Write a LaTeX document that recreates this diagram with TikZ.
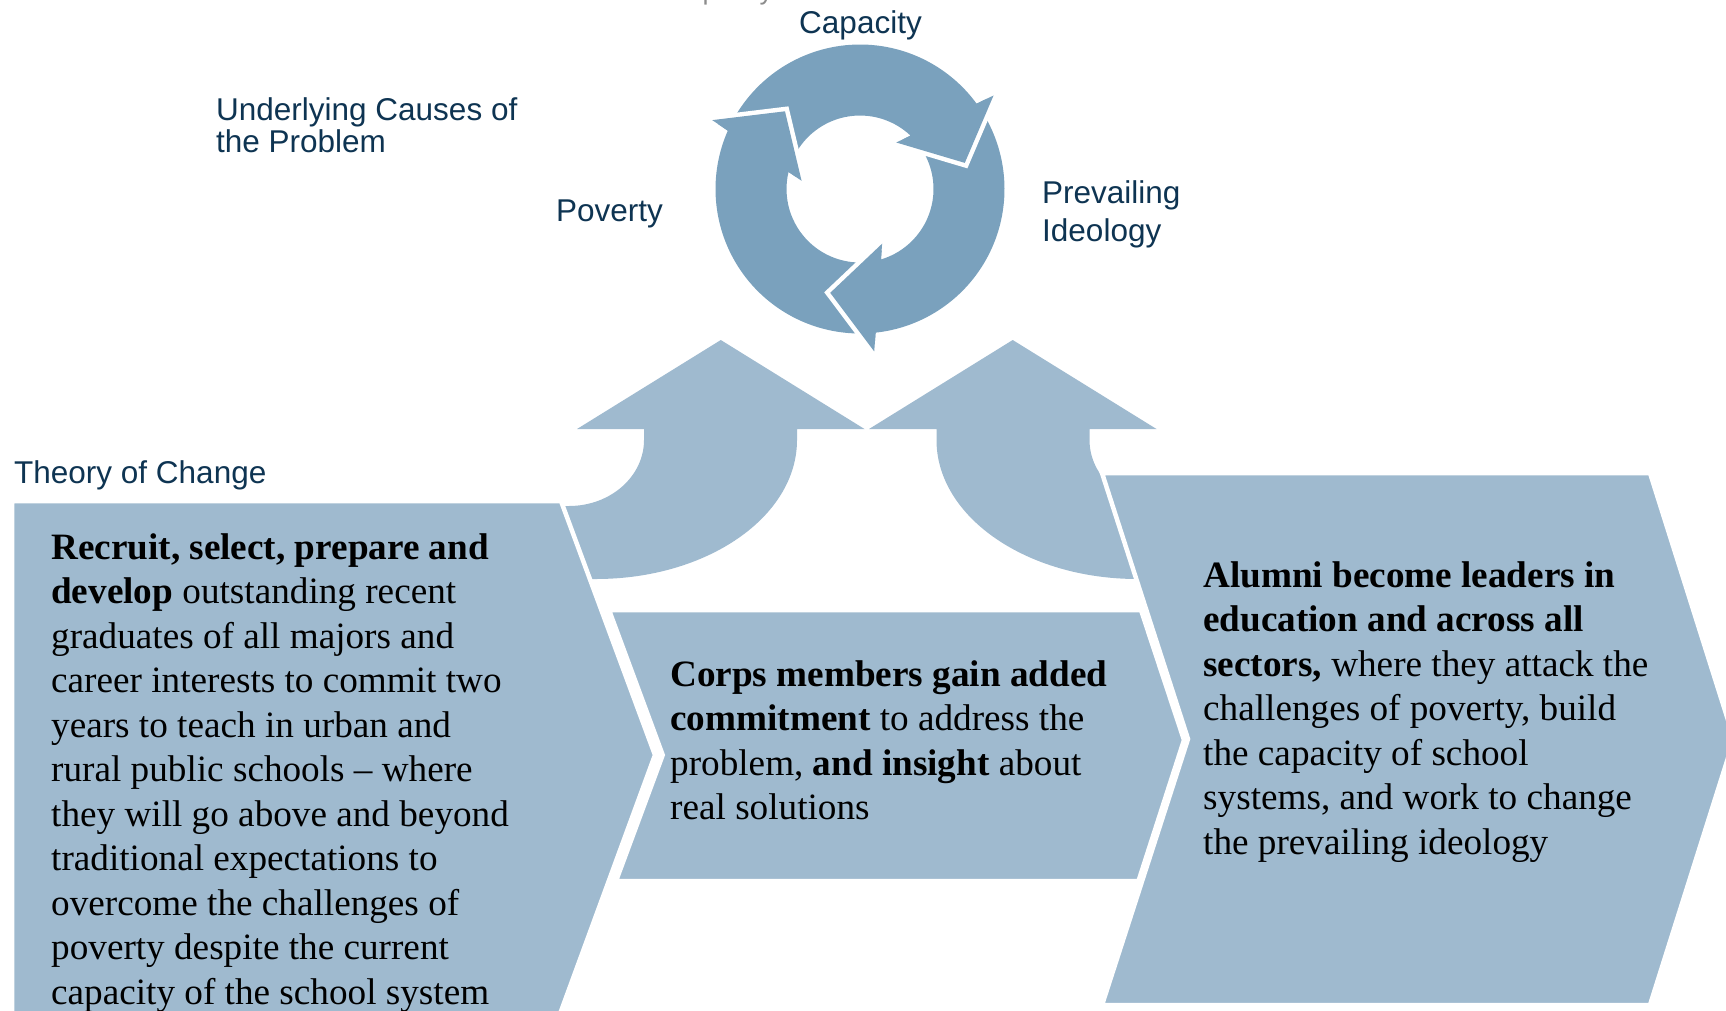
\documentclass[tikz,border=0pt]{standalone}
\usepackage{fontspec}
\setmainfont{Liberation Serif}
\newfontfamily\labelfont{Liberation Sans}
\definecolor{boxcol}{RGB}{159,186,207}
\definecolor{ringcol}{RGB}{122,161,189}
\definecolor{navy}{RGB}{14,52,82}
\tikzset{
  bigshape/.style={fill=boxcol, draw=white, line width=4.5pt, line join=miter},
  uparrow/.style={fill=boxcol},
  ringarrow/.style={fill=ringcol},
  ringgap/.style={draw=white, line width=9pt, line join=miter},
  cyclabel/.style={font=\labelfont\fontsize{31.5}{36}\selectfont, text=navy, inner sep=0pt},
  bodytext/.style={font=\fontsize{37.2}{44.5}\selectfont, align=left, inner sep=0pt, anchor=north west, text=black},
}
\begin{document}
\begin{tikzpicture}[x=1pt,y=1pt]
\useasboundingbox (0,0) rectangle (1726,-1010);
\clip (0,0) rectangle (1726,-1010);

% curved up arrows
\path[uparrow] (577,-429) -- (720.8,-340) -- (864.5,-429) -- (797,-429) -- (797,-440)
  arc[start angle=0, end angle=-90, x radius=201pt, y radius=139pt]
  -- (530,-579) -- (530,-506) -- (569,-506)
  arc[start angle=-90, end angle=0, x radius=75pt, y radius=66pt]
  -- (644,-429) -- cycle;
\path[uparrow] (869,-429) -- (1012.7,-340) -- (1156.5,-429) -- (1089.5,-429) -- (1089.5,-440)
  arc[start angle=180, end angle=270, x radius=75pt, y radius=66pt]
  -- (1210,-506) -- (1210,-579) -- (1137.5,-579)
  arc[start angle=270, end angle=180, x radius=201pt, y radius=139pt]
  -- (936.5,-429) -- cycle;

% chevron boxes
\path[bigshape] (609,-610) -- (1141,-610) -- (1184,-740) -- (1138.5,-881) -- (616,-881) -- (662.7,-755) -- cycle;
\path[bigshape] (12,-501) -- (561,-501) -- (655,-755) -- (560,-1014) -- (12,-1014) -- cycle;
\path[bigshape] (1102,-473) -- (1650,-473) -- (1734,-739) -- (1650,-1005) -- (1102,-1005) -- (1188,-739) -- cycle;

% cycle of three arrows
\begin{scope}[shift={(860,-189)}]
\foreach \r in {0,120,240}{
  \path[ringarrow, rotate=\r] (150.3:144.5)
    arc[start angle=150.3, end angle=36.2, radius=144.5pt]
    -- (35:163) -- (14:108) -- (52:59) -- (46.6:73.5)
    arc[start angle=46.6, end angle=151.8, radius=73.5pt]
    -- (134:108) -- cycle;
}
\foreach \r in {0,120,240}{
  \path[ringgap, rotate=\r] (35:163) -- (14:108) -- (52:59);
}
\foreach \r in {0,120,240}{
  \path[ringarrow, rotate=\r] (35:163) -- (14:108) -- (52:59) -- cycle;
}
\end{scope}

% labels
\node[font=\labelfont\fontsize{27}{30}\selectfont, text=black!45, anchor=base west, inner sep=0pt] (ghost) at (668,1) {Capacity};
\node[cyclabel, anchor=base] (capacity) at (860.5,-33) {Capacity};
\node[cyclabel, anchor=north west, align=left, font=\labelfont\fontsize{31.5}{28}\selectfont] (causes) at (216,-97.1) {\strut Underlying Causes of\\the Problem};
\node[cyclabel, anchor=base west] (poverty) at (556,-221.7) {Poverty};
\node[cyclabel, anchor=north west, align=left, font=\labelfont\fontsize{31.5}{38.4}\selectfont] (ideology) at (1042,-176.4) {\strut Prevailing\\Ideology};
\node[cyclabel, anchor=base west] (toc) at (14,-483.6) {Theory of Change};

% body texts
\node[bodytext] (recruit) at (51,-527.85) {\strut\textbf{Recruit, select, prepare and}\\
\textbf{develop} outstanding recent\\
graduates of all majors and\\
career interests to commit two\\
years to teach in urban and\\
rural public schools – where\\
they will go above and beyond\\
traditional expectations to\\
overcome the challenges of\\
poverty despite the current\\
capacity of the school system};

\node[bodytext] (corps) at (670,-654.85) {\strut\textbf{Corps members gain added}\\
\textbf{commitment} to address the\\
problem, \textbf{and insight} about\\
real solutions};

\node[bodytext] (alumni) at (1203,-555.85) {\strut\textbf{Alumni become leaders in}\\
\textbf{education and across all}\\
\textbf{sectors,} where they attack the\\
challenges of poverty, build\\
the capacity of school\\
systems, and work to change\\
the prevailing ideology};
\end{tikzpicture}
\end{document}
